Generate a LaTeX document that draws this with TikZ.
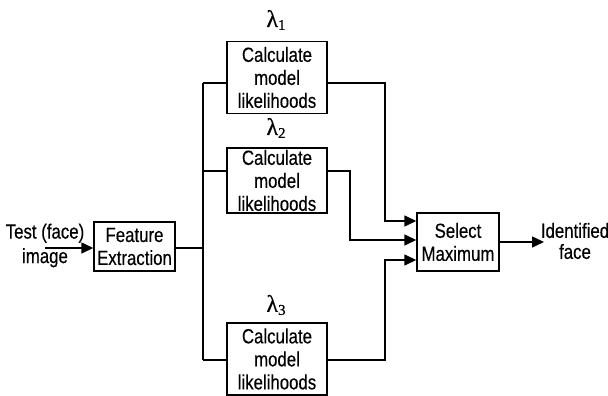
\documentclass[tikz,border=0pt]{standalone}
\usepackage{fontspec}
\setmainfont{Liberation Sans}[FakeStretch=0.82,FakeBold=0.3]
\newfontfamily\grk{Liberation Serif}[FakeBold=0.6]
\usetikzlibrary{arrows.meta}
\newcommand{\lam}[1]{{\grk\fontsize{24}{24}\selectfont λ\raisebox{-3pt}{\fontsize{15}{15}\selectfont #1}}}
\begin{document}
\begin{tikzpicture}[x=1pt,y=-1pt,
  font=\fontsize{20.5}{23}\selectfont,
  blk/.style={draw, line width=1.4pt, align=center, inner sep=0pt},
  calc/.style={blk, minimum width=100pt, minimum height=72pt},
  lbl/.style={align=center, inner sep=0pt},
  wire/.style={line width=1.4pt},
  arr/.style={wire, -{Triangle[length=12pt,width=11pt]}}]
\useasboundingbox (0,0) rectangle (608,396);

% blocks
\node[blk, minimum width=81pt, minimum height=49pt] (fe) at (134.5,246.5) {Feature\\Extraction};
\node[calc] (b1) at (277,77.5) {Calculate\\model\\likelihoods};
\node[calc, minimum height=65pt] (b2) at (277,180.5) {Calculate\\model\\likelihoods};
\node[calc] (b3) at (277,359) {Calculate\\model\\likelihoods};
\node[blk, minimum width=82pt, minimum height=58pt] (sm) at (458,242) {Select\\Maximum};

% model labels
\node[lbl] (l1) at (276,20) {\lam{1}};
\node[lbl] (l2) at (276,128) {\lam{2}};
\node[lbl] (l3) at (276,305) {\lam{3}};

% input and output texts
\node[lbl, font=\fontsize{20.5}{24.5}\selectfont] (inp) at (45,245.5) {Test (face)\\image};
\node[lbl, font=\fontsize{20.5}{21}\selectfont] (outp) at (575,241) {Identified\\face};

% junction points
\coordinate (in) at (45,248);
\coordinate (t1) at (203,83);
\coordinate (t2) at (203,171);
\coordinate (t3) at (203,360);
\coordinate (r1) at (385,221);
\coordinate (r2) at (350,240);
\coordinate (r3) at (385,260);
\coordinate (out) at (544,242);

% input arrow
\draw[arr] (in) -- (in -| fe.west);

% fan-out trunk
\draw[wire] (t1) -- (t3);
\draw[wire] (fe.east |- in) -- (in -| t1);
\draw[wire] (t1) -- (t1 -| b1.west);
\draw[wire] (t2) -- (t2 -| b2.west);
\draw[wire] (t3) -- (t3 -| b3.west);

% to selector
\draw[arr] (b1.east |- t1) -| (r1) -- (r1 -| sm.west);
\draw[arr] (b2.east |- t2) -| (r2) -- (r2 -| sm.west);
\draw[arr] (b3.east |- t3) -| (r3) -- (r3 -| sm.west);

% output arrow
\draw[arr] (sm.east) -- (out);
\end{tikzpicture}
\end{document}
